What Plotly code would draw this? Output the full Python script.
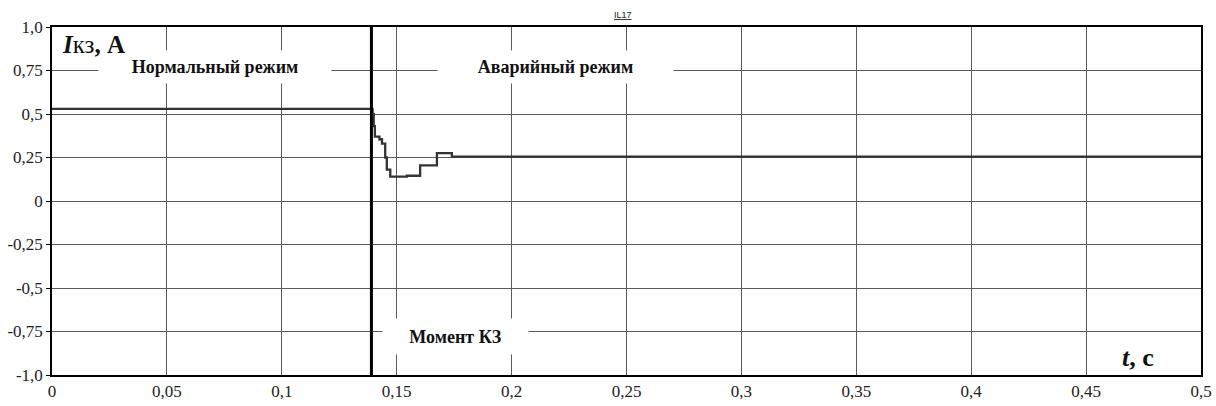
import plotly.graph_objects as go

# ---- data ----
t_values = [0.0, 0.1395, 0.1400, 0.1405, 0.1425, 0.1436, 0.1450, 0.1457, 0.1472,
            0.1544, 0.1602, 0.1675, 0.1740, 0.5]
i_values = [0.53, 0.50, 0.43, 0.37, 0.355, 0.33, 0.25, 0.18, 0.14,
            0.145, 0.205, 0.275, 0.255, 0.255]
fault_time = 0.139

x_tickvals = [0, 0.05, 0.1, 0.15, 0.2, 0.25, 0.3, 0.35, 0.4, 0.45, 0.5]
x_ticktext = ["0", "0,05", "0,1", "0,15", "0,2", "0,25", "0,3", "0,35", "0,4", "0,45", "0,5"]
y_tickvals = [1.0, 0.75, 0.5, 0.25, 0, -0.25, -0.5, -0.75, -1.0]
y_ticktext = ["1,0", "0,75", "0,5", "0,25", "0", "-0,25", "-0,5", "-0,75", "-1,0"]

FONT = "Liberation Serif"

fig = go.Figure()
fig.add_trace(go.Scatter(
    x=t_values, y=i_values, mode="lines", line_shape="hv",
    line=dict(color="#333333", width=2.3), showlegend=False, hoverinfo="skip"))
fig.add_trace(go.Scatter(
    x=[fault_time, fault_time], y=[-1, 1], mode="lines",
    line=dict(color="#000000", width=3), showlegend=False, hoverinfo="skip"))

box = dict(showarrow=False, bgcolor="white", xref="x", yref="y",
           font=dict(family=FONT, size=18, color="#111111"))
fig.add_annotation(x=0.0709, y=0.77, text="<b>Нормальный режим</b>", width=230, height=30, **box)
fig.add_annotation(x=0.2193, y=0.77, text="<b>Аварийный режим</b>", width=233, height=30, **box)
fig.add_annotation(x=0.1754, y=-0.776, text="<b>Момент КЗ</b>", width=143, height=33, **box)
fig.add_annotation(x=0.4726, y=-0.897, text="<b><i>t</i>, c</b>", showarrow=False,
                   xref="x", yref="y", font=dict(family=FONT, size=26, color="#111111"))
fig.add_annotation(x=0.0035, y=0.897, xanchor="left", text="<b><i>I</i></b>кз<b>, A</b>",
                   showarrow=False, xref="x", yref="y",
                   font=dict(family=FONT, size=25, color="#111111"))
fig.add_annotation(x=0.5, y=1, xref="paper", yref="paper", yanchor="bottom", yshift=5,
                   xshift=-4, text="<u>IL17</u>", showarrow=False,
                   font=dict(family="Liberation Sans", size=9, color="#222222"))

axis_common = dict(showgrid=True, gridcolor="#5a5a5a", gridwidth=1, zeroline=False,
                   showline=True, linecolor="#000000", linewidth=1.5, mirror=True,
                   automargin=False,
                   tickfont=dict(family=FONT, size=17, color="#222222"))
fig.update_xaxes(range=[0, 0.5], tickmode="array", tickvals=x_tickvals, ticktext=x_ticktext,
                 ticks="", **axis_common)
fig.update_yaxes(range=[-1, 1], tickmode="array", tickvals=y_tickvals, ticktext=y_ticktext,
                 ticks="outside", ticklen=4, tickcolor="#000000", **axis_common)
fig.update_layout(width=1216, height=406, margin=dict(l=52, r=15, t=27, b=31),
                  font=dict(family=FONT),
                  plot_bgcolor="white", paper_bgcolor="white", showlegend=False)
fig.write_html("out.html", config={"displayModeBar": False},
               post_script="document.body.style.margin='0px';document.body.style.overflow='hidden';")
